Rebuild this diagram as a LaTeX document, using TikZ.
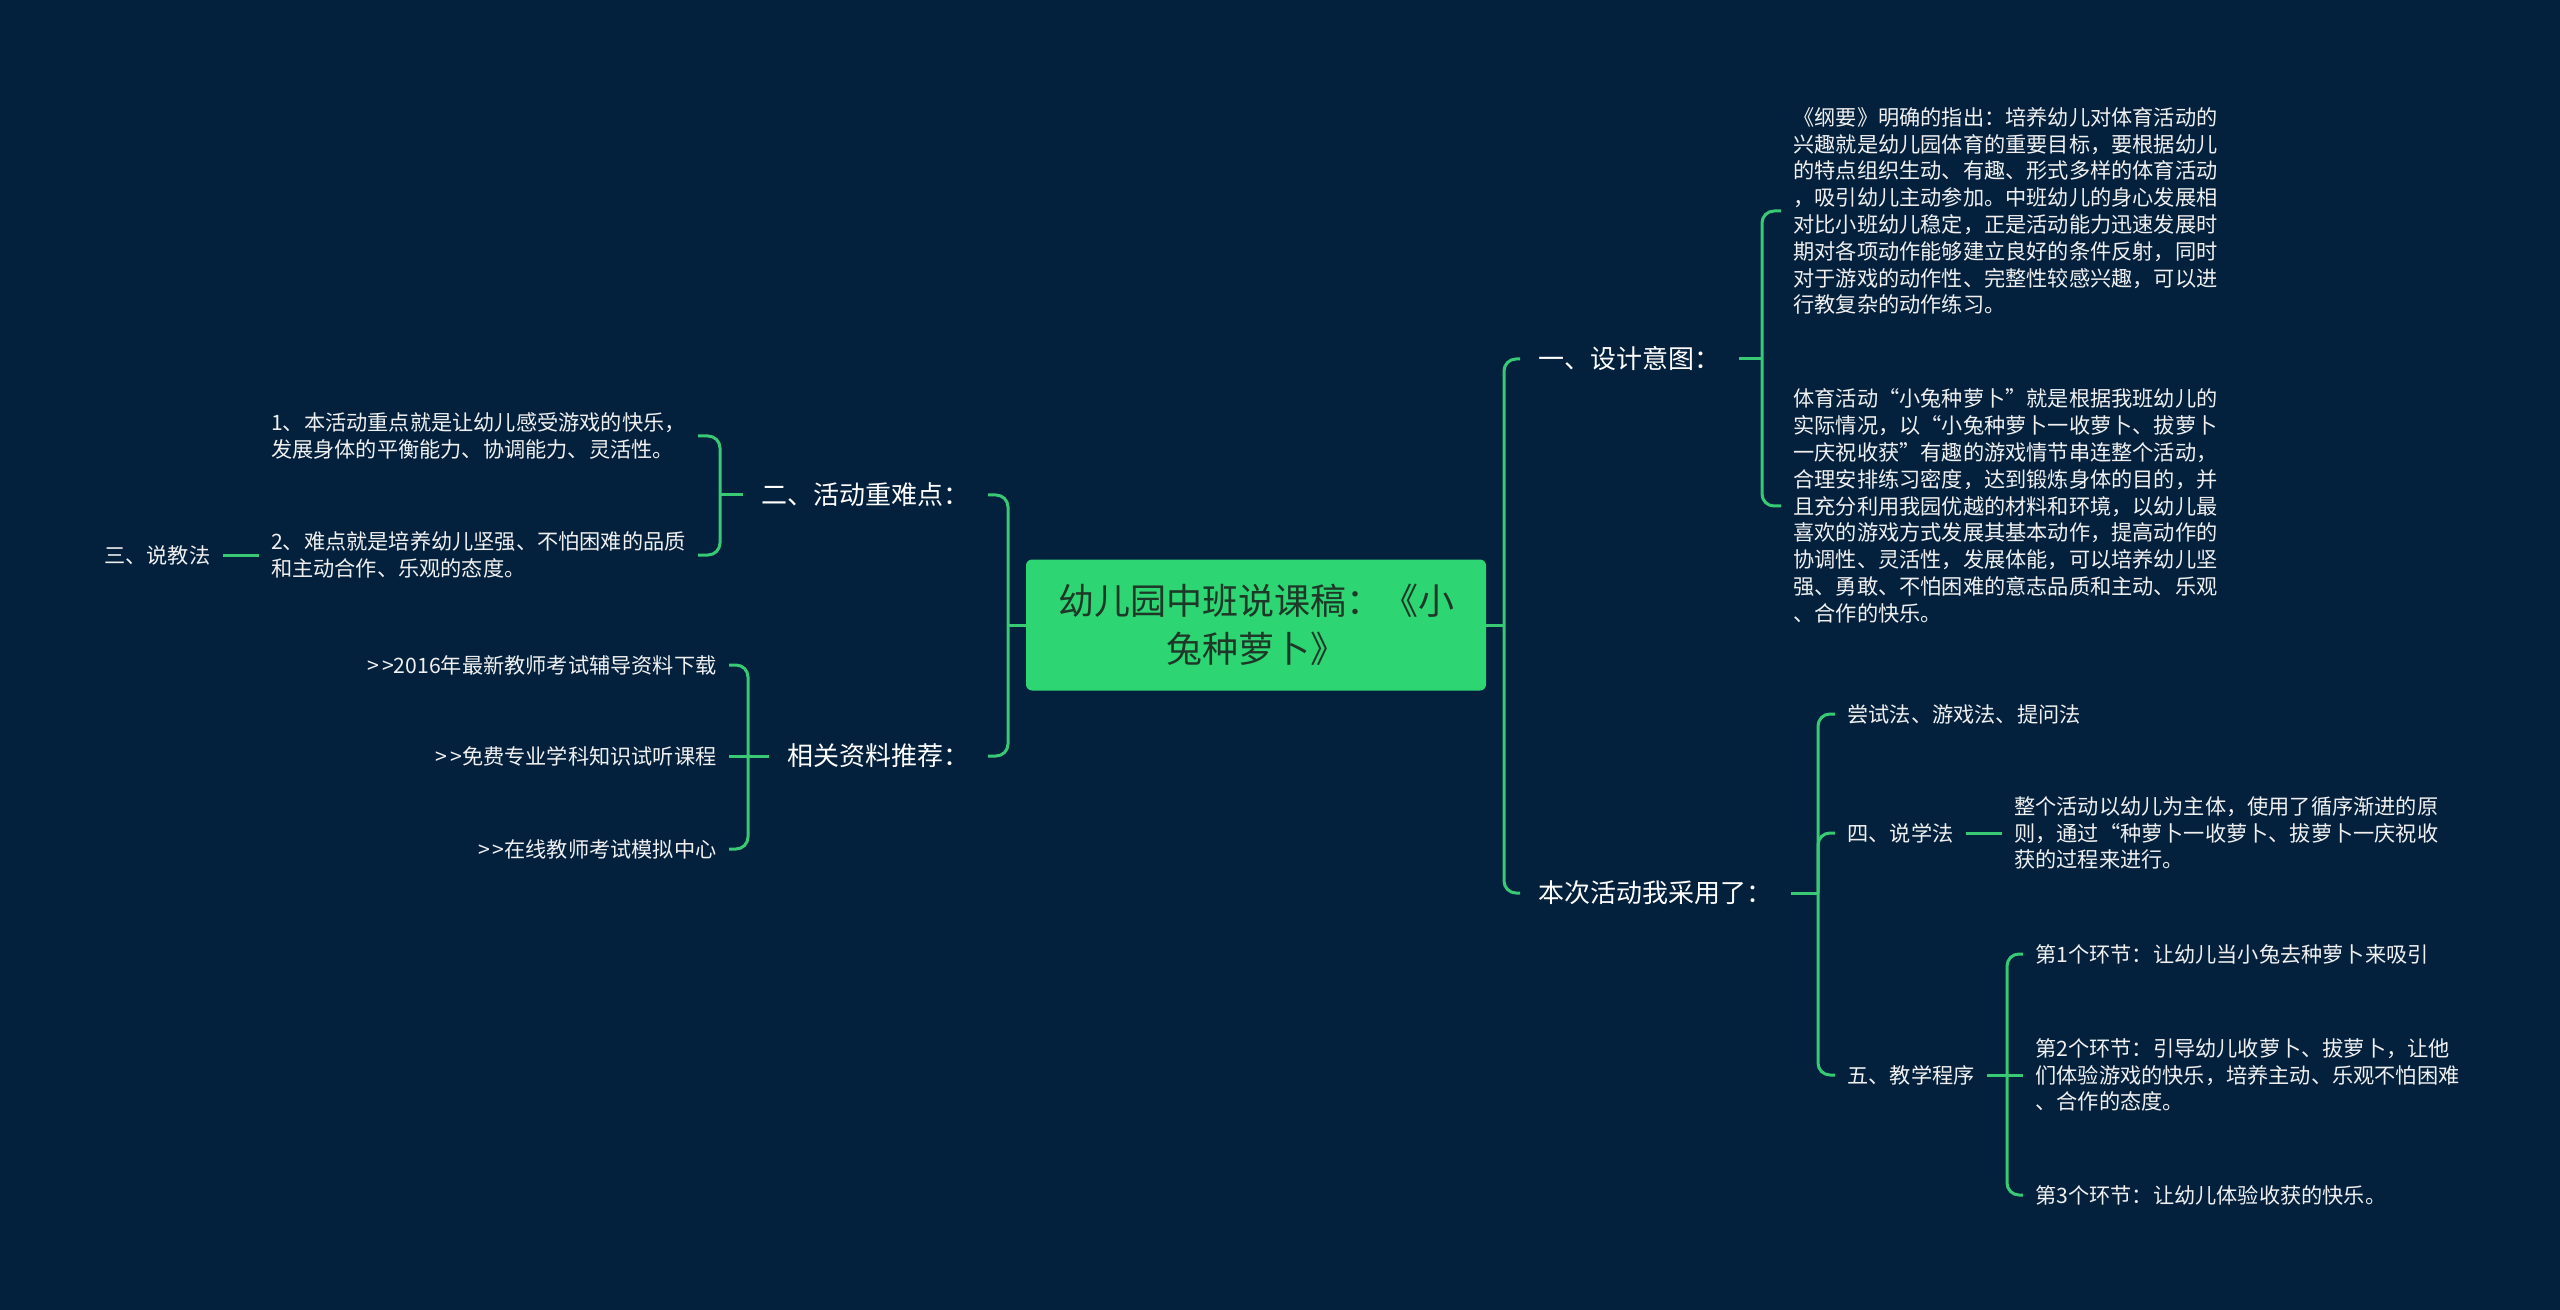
\documentclass[tikz,border=0pt]{standalone}
\usepackage{fontspec}
\setmainfont{Noto Sans CJK SC}
\usetikzlibrary{positioning}
\definecolor{bgnavy}{HTML}{03213D}
\definecolor{mapgreen}{HTML}{2ED573}
\definecolor{linkgreen}{HTML}{38C974}
\definecolor{roottext}{HTML}{1E3828}
\definecolor{leaftext}{HTML}{F0F0F0}
\tikzset{
  link/.style={draw=linkgreen, line width=1.5pt, rounded corners=6pt},
}
\newcommand{\gtgt}{>\hspace{1.5pt}>}

\begin{document}
\begin{tikzpicture}[
        x=0.5pt, y=-0.5pt,
        rootbox/.style={fill=mapgreen, rounded corners=3pt, text=roottext,
          font=\fontsize{18pt}{24pt}\selectfont, align=center,
          minimum width=230pt, minimum height=65.5pt, inner sep=0pt},
        topic/.style={text=white, font=\fontsize{13pt}{16pt}\selectfont,
          inner xsep=9pt, inner ysep=2pt},
        leaf/.style={text=leaftext, font=\fontsize{10.6pt}{13.4pt}\selectfont,
          inner xsep=6pt, inner ysep=2pt, align=left},
      ]
      \fill[bgnavy] (0,0) rectangle (2560,1310);
      \useasboundingbox (0,0) rectangle (2560,1310);

      \node[rootbox] (root) at (1256,625) {幼儿园中班说课稿：《小\\兔种萝卜》};

      % right side
      \node[topic, anchor=west] (aim) at (1520,359) {一、设计意图：};
      \node[topic, anchor=west] (way) at (1520,893) {本次活动我采用了：};
      \node[leaf, anchor=west] (aim1) at (1781,211) {
        《纲要》明确的指出：培养幼儿对体育活动的\\
        兴趣就是幼儿园体育的重要目标，要根据幼儿\\
        的特点组织生动、有趣、形式多样的体育活动\\
        ，吸引幼儿主动参加。中班幼儿的身心发展相\\
        对比小班幼儿稳定，正是活动能力迅速发展时\\
        期对各项动作能够建立良好的条件反射，同时\\
        对于游戏的动作性、完整性较感兴趣，可以进\\
        行教复杂的动作练习。
      };
      \node[leaf, anchor=west] (aim2) at (1781,506) {
        体育活动“小兔种萝卜”就是根据我班幼儿的\\
        实际情况，以“小兔种萝卜一收萝卜、拔萝卜\\
        一庆祝收获”有趣的游戏情节串连整个活动，\\
        合理安排练习密度，达到锻炼身体的目的，并\\
        且充分利用我园优越的材料和环境，以幼儿最\\
        喜欢的游戏方式发展其基本动作，提高动作的\\
        协调性、灵活性，发展体能，可以培养幼儿坚\\
        强、勇敢、不怕困难的意志品质和主动、乐观\\
        、合作的快乐。
      };
      \node[leaf, anchor=west] (way1) at (1835,714) {尝试法、游戏法、提问法};
      \node[leaf, anchor=west] (way2) at (1835,833) {四、说学法};
      \node[leaf, anchor=west] (way3) at (1835,1075) {五、教学程序};
      \node[leaf, right=18pt of way2] (study) {
        整个活动以幼儿为主体，使用了循序渐进的原\\
        则，通过“种萝卜一收萝卜、拔萝卜一庆祝收\\
        获的过程来进行。
      };
      \node[leaf, anchor=west] (step1) at (2023,954) {第1个环节：让幼儿当小兔去种萝卜来吸引};
      \node[leaf, anchor=west] (step2) at (2023,1075) {
        第2个环节：引导幼儿收萝卜、拔萝卜，让他\\
        们体验游戏的快乐，培养主动、乐观不怕困难\\
        、合作的态度。
      };
      \node[leaf, anchor=west] (step3) at (2023,1195) {第3个环节：让幼儿体验收获的快乐。};

      % left side
      \node[topic, anchor=east] (key) at (988,495) {二、活动重难点：};
      \node[topic, anchor=east] (res) at (988,756) {相关资料推荐：};
      \node[leaf, anchor=east] (key1) at (698,436) {
        1、本活动重点就是让幼儿感受游戏的快乐，\\
        发展身体的平衡能力、协调能力、灵活性。
      };
      \node[leaf, anchor=east] (key2) at (698,555) {
        2、难点就是培养幼儿坚强、不怕困难的品质\\
        和主动合作、乐观的态度。
      };
      \node[leaf, left=18pt of key2] (teach) {三、说教法};
      \node[leaf, anchor=east] (res1) at (729,665) {\gtgt 2016年最新教师考试辅导资料下载};
      \node[leaf, anchor=east] (res2) at (729,756) {\gtgt 免费专业学科知识试听课程};
      \node[leaf, anchor=east] (res3) at (729,849) {\gtgt 在线教师考试模拟中心};

      % connectors
      \coordinate (rj) at (1504,625);
      \coordinate (lj) at (1008,625);
      \coordinate (aimj) at (1762,359);
      \coordinate (wayj) at (1818,893);
      \coordinate (stepj) at (2007,1075);
      \coordinate (keyj) at (720,495);
      \coordinate (resj) at (748,756);

      \draw[link] (root.east) -- (rj);
      \draw[link] (rj) |- (aim.west);
      \draw[link] (rj) |- (way.west);
      \draw[link] (root.west) -- (lj);
      \draw[link] (lj) |- (key.east);
      \draw[link] (lj) |- (res.east);

      \draw[link] (aim.east) -- (aimj);
      \draw[link] (aimj) |- (aim1.west);
      \draw[link] (aimj) |- (aim2.west);

      \draw[link] (way.east) -- (wayj);
      \draw[link] (wayj) |- (way1.west);
      \draw[link] (wayj) |- (way2.west);
      \draw[link] (wayj) |- (way3.west);
      \draw[link] (way2.east) -- (study.west);

      \draw[link] (way3.east) -- (step2.west);
      \draw[link] (stepj) |- (step1.west);
      \draw[link] (stepj) |- (step3.west);

      \draw[link] (key.west) -- (keyj);
      \draw[link] (keyj) |- (key1.east);
      \draw[link] (keyj) |- (key2.east);
      \draw[link] (key2.west) -- (teach.east);

      \draw[link] (res.west) -- (res2.east);
      \draw[link] (resj) |- (res1.east);
      \draw[link] (resj) |- (res3.east);
    \end{tikzpicture}
\end{document}
